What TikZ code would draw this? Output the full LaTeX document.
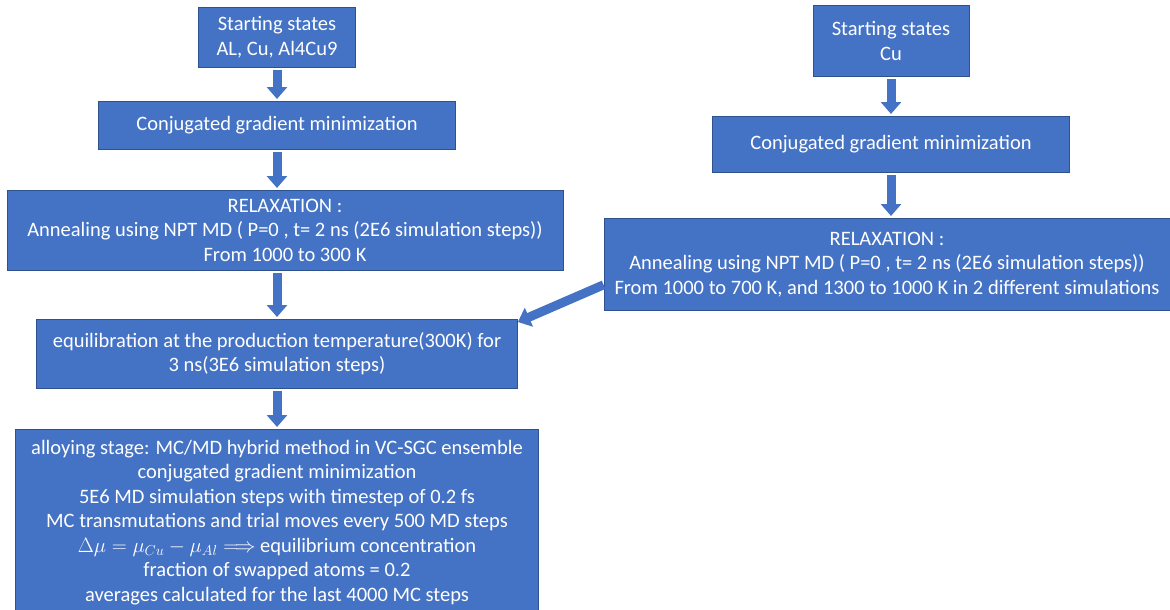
\documentclass[tikz,border=0pt]{standalone}
\usepackage{fontspec}
\setmainfont{Carlito}
\usetikzlibrary{arrows.meta,calc}
\definecolor{boxblue}{HTML}{4472C4}
\definecolor{boxline}{HTML}{2F528F}

\begin{document}
\begin{tikzpicture}[x=1pt,y=-1pt,
  stage/.style={draw=boxline,fill=boxblue,line width=0.8pt,text=white,align=center,
    font=\fontsize{20.5}{24.5}\selectfont,inner sep=2pt,anchor=north},
  flow/.style={draw=boxblue,line width=9pt,-{Triangle[width=20pt,length=12pt]},
    shorten <=2pt,shorten >=2pt}]
  \useasboundingbox (0,0) rectangle (1170,610);
  % left column
  \node[stage,minimum width=157pt,minimum height=60pt] (L1) at (277,7)
    {Starting states\\AL, Cu, Al4Cu9};
  \node[stage,minimum width=357pt,minimum height=48pt] (L2) at (277,101)
    {Conjugated gradient minimization};
  \node[stage,minimum width=556pt,minimum height=80pt] (L3) at (285,190)
    {RELAXATION\ :\\Annealing using NPT MD ( P=0 , t= 2 ns (2E6 simulation steps))\\From 1000 to 300 K};
  \node[stage,minimum width=481pt,minimum height=69pt] (L4) at (277,319)
    {equilibration at the production temperature(300K)\ for\\3 ns(3E6 simulation steps)};
  \node[stage,minimum width=523pt,minimum height=186pt] (L5) at (277,429)
    {alloying stage: MC/MD hybrid method in VC-SGC ensemble\\
     conjugated gradient minimization\\
     5E6 MD simulation steps with timestep of 0.2 fs\\
     MC transmutations and trial moves every 500 MD steps\\
     {\fontsize{21.5}{24.5}\selectfont$\Delta\mu=\mu_{Cu}-\mu_{Al}\Longrightarrow$} equilibrium concentration\\
     fraction of swapped atoms = 0.2\\
     averages calculated for the last 4000 MC steps};
  % right column
  \node[stage,minimum width=156pt,minimum height=71pt] (R1) at (891,5)
    {Starting states\\Cu};
  \node[stage,minimum width=357pt,minimum height=56pt] (R2) at (891,116)
    {Conjugated gradient minimization};
  \node[stage,minimum width=566pt,minimum height=92pt] (R3) at (887,218)
    {RELAXATION\ :\\Annealing using NPT MD ( P=0 , t= 2 ns (2E6 simulation steps))\\From 1000 to 700 K, and 1300 to 1000 K in 2 different simulations};
  % arrows
  \draw[flow] (L1.south) -- (L2.north);
  \draw[flow] (L2.south) -- (L2.south |- L3.north);
  \draw[flow] (L4.north |- L3.south) -- (L4.north);
  \draw[flow] (L4.south) -- (L5.north);
  \draw[flow] (R1.south) -- (R2.north);
  \draw[flow] (R2.south) -- (R2.south |- R3.north);
  \draw[flow,shorten <=0pt,shorten >=0pt] ($(R3.north west)!0.72!(R3.south west)$) -- ($(L4.north east)+(0,3)$);
\end{tikzpicture}
\end{document}
